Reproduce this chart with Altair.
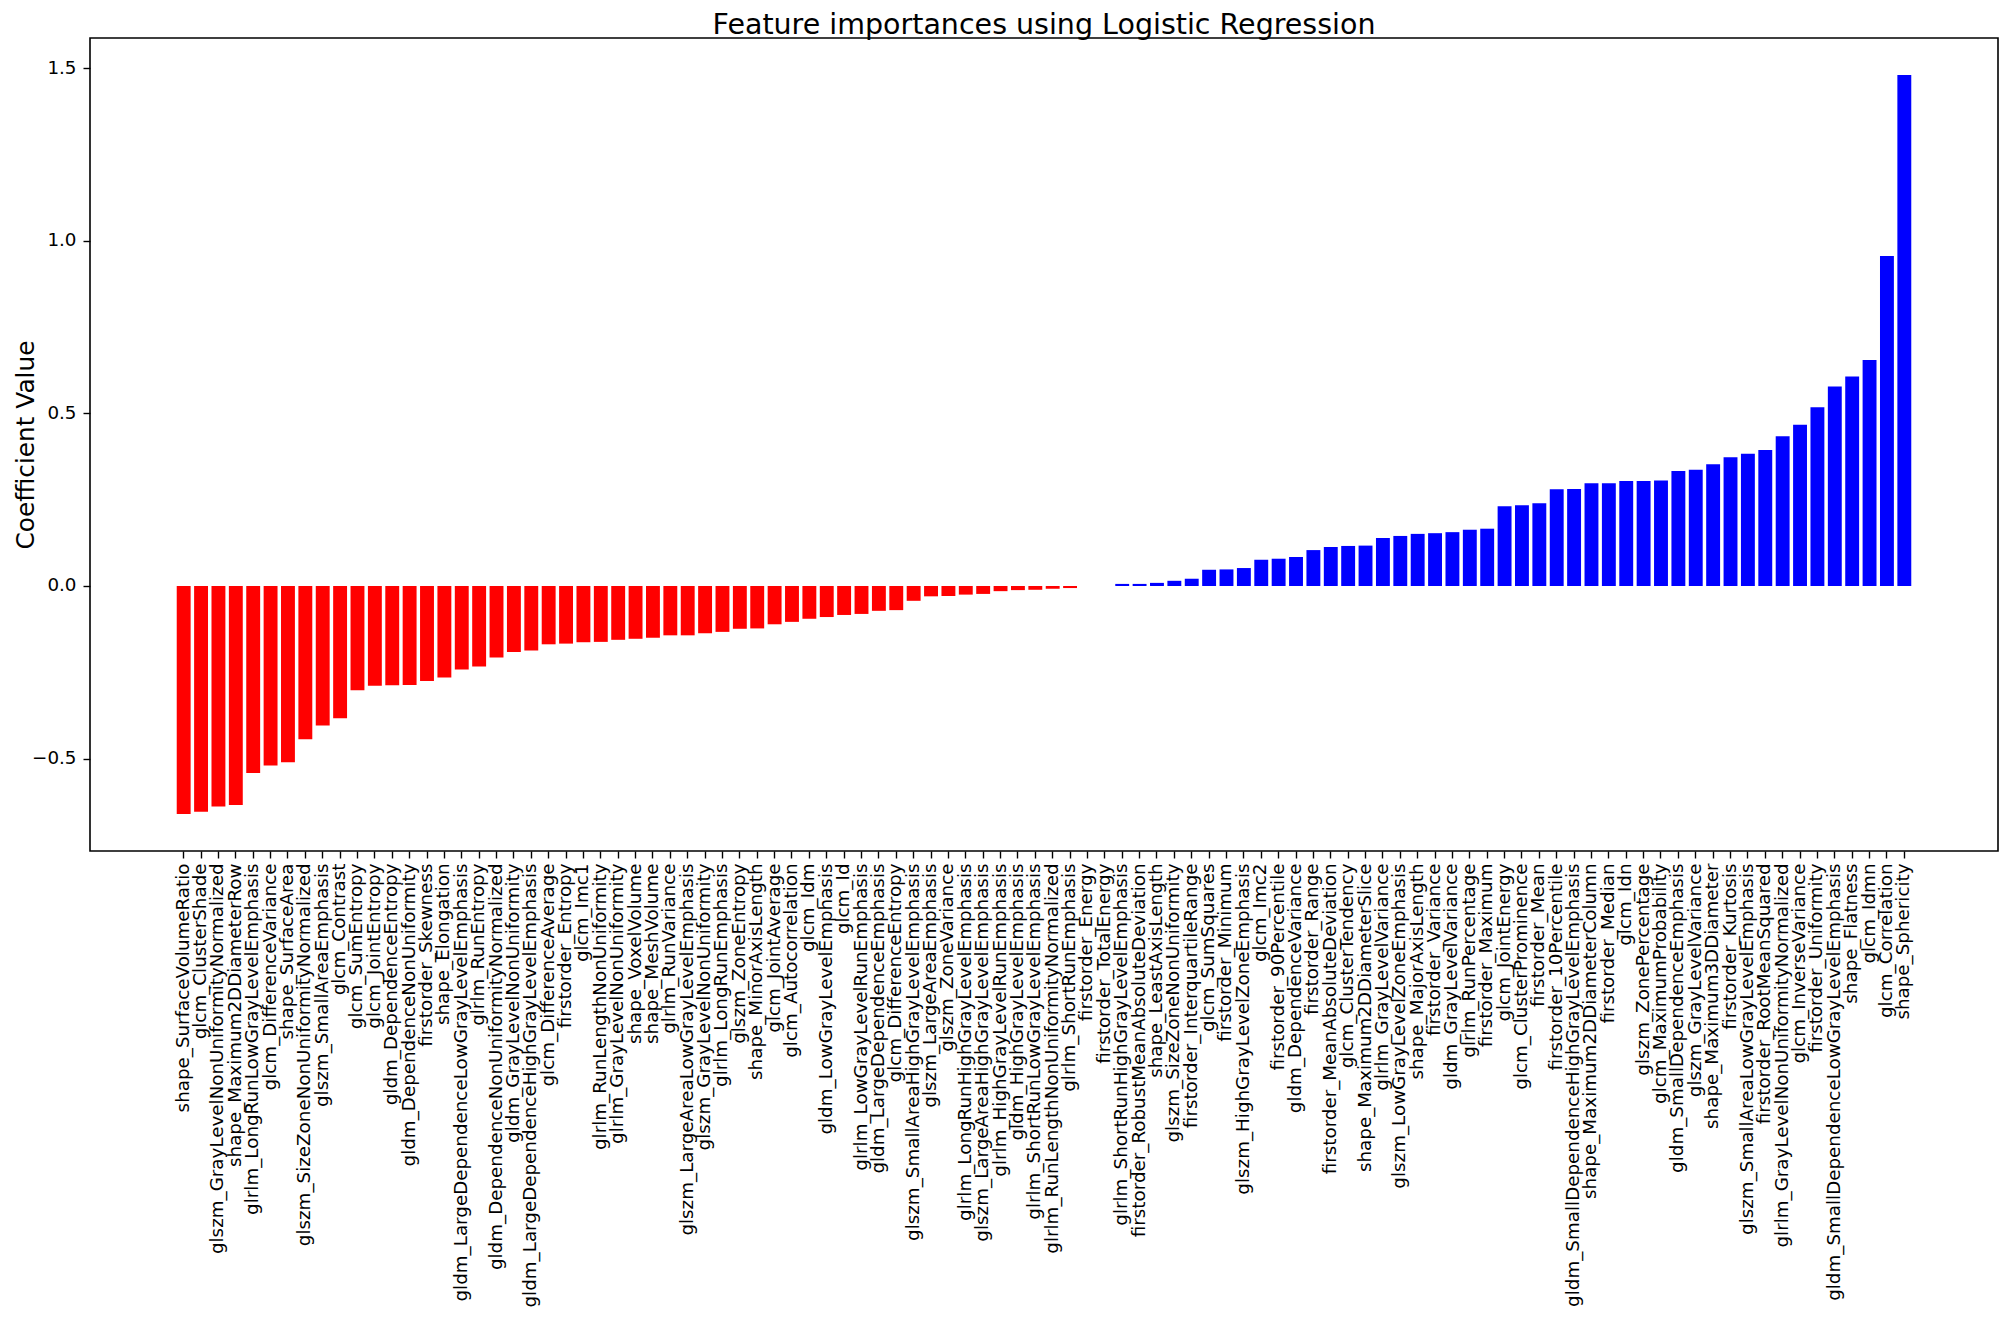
import altair as alt
import pandas as pd

features = [
    "shape_SurfaceVolumeRatio", "glcm_ClusterShade", "glszm_GrayLevelNonUniformityNormalized",
    "shape_Maximum2DDiameterRow", "glrlm_LongRunLowGrayLevelEmphasis", "glcm_DifferenceVariance",
    "shape_SurfaceArea", "glszm_SizeZoneNonUniformityNormalized", "glszm_SmallAreaEmphasis",
    "glcm_Contrast", "glcm_SumEntropy", "glcm_JointEntropy", "gldm_DependenceEntropy",
    "gldm_DependenceNonUniformity", "firstorder_Skewness", "shape_Elongation",
    "gldm_LargeDependenceLowGrayLevelEmphasis", "glrlm_RunEntropy",
    "gldm_DependenceNonUniformityNormalized", "gldm_GrayLevelNonUniformity",
    "gldm_LargeDependenceHighGrayLevelEmphasis", "glcm_DifferenceAverage", "firstorder_Entropy",
    "glcm_Imc1", "glrlm_RunLengthNonUniformity", "glrlm_GrayLevelNonUniformity",
    "shape_VoxelVolume", "shape_MeshVolume", "glrlm_RunVariance",
    "glszm_LargeAreaLowGrayLevelEmphasis", "glszm_GrayLevelNonUniformity",
    "glrlm_LongRunEmphasis", "glszm_ZoneEntropy", "shape_MinorAxisLength",
    "glcm_JointAverage", "glcm_Autocorrelation", "glcm_Idm", "gldm_LowGrayLevelEmphasis",
    "glcm_Id", "glrlm_LowGrayLevelRunEmphasis", "gldm_LargeDependenceEmphasis",
    "glcm_DifferenceEntropy", "glszm_SmallAreaHighGrayLevelEmphasis", "glszm_LargeAreaEmphasis",
    "glszm_ZoneVariance", "glrlm_LongRunHighGrayLevelEmphasis",
    "glszm_LargeAreaHighGrayLevelEmphasis", "glrlm_HighGrayLevelRunEmphasis",
    "gldm_HighGrayLevelEmphasis", "glrlm_ShortRunLowGrayLevelEmphasis",
    "glrlm_RunLengthNonUniformityNormalized", "glrlm_ShortRunEmphasis", "firstorder_Energy",
    "firstorder_TotalEnergy", "glrlm_ShortRunHighGrayLevelEmphasis",
    "firstorder_RobustMeanAbsoluteDeviation", "shape_LeastAxisLength",
    "glszm_SizeZoneNonUniformity", "firstorder_InterquartileRange", "glcm_SumSquares",
    "firstorder_Minimum", "glszm_HighGrayLevelZoneEmphasis", "glcm_Imc2",
    "firstorder_90Percentile", "gldm_DependenceVariance", "firstorder_Range",
    "firstorder_MeanAbsoluteDeviation", "glcm_ClusterTendency", "shape_Maximum2DDiameterSlice",
    "glrlm_GrayLevelVariance", "glszm_LowGrayLevelZoneEmphasis", "shape_MajorAxisLength",
    "firstorder_Variance", "gldm_GrayLevelVariance", "glrlm_RunPercentage",
    "firstorder_Maximum", "glcm_JointEnergy", "glcm_ClusterProminence", "firstorder_Mean",
    "firstorder_10Percentile", "gldm_SmallDependenceHighGrayLevelEmphasis",
    "shape_Maximum2DDiameterColumn", "firstorder_Median", "glcm_Idn", "glszm_ZonePercentage",
    "glcm_MaximumProbability", "gldm_SmallDependenceEmphasis", "glszm_GrayLevelVariance",
    "shape_Maximum3DDiameter", "firstorder_Kurtosis", "glszm_SmallAreaLowGrayLevelEmphasis",
    "firstorder_RootMeanSquared", "glrlm_GrayLevelNonUniformityNormalized",
    "glcm_InverseVariance", "firstorder_Uniformity", "gldm_SmallDependenceLowGrayLevelEmphasis",
    "shape_Flatness", "glcm_Idmn", "glcm_Correlation", "shape_Sphericity",
]

coefficients = [
    -0.661, -0.654, -0.639, -0.635, -0.542, -0.520, -0.511, -0.444, -0.404, -0.383,
    -0.302, -0.289, -0.288, -0.287, -0.275, -0.265, -0.242, -0.233, -0.207, -0.191,
    -0.187, -0.169, -0.167, -0.163, -0.162, -0.156, -0.153, -0.150, -0.143, -0.143,
    -0.137, -0.133, -0.124, -0.123, -0.111, -0.104, -0.095, -0.090, -0.084, -0.081,
    -0.072, -0.070, -0.043, -0.030, -0.029, -0.025, -0.023, -0.015, -0.012, -0.011,
    -0.008, -0.006, 0.0, 0.0, 0.006, 0.006, 0.009, 0.015, 0.021, 0.047,
    0.048, 0.052, 0.076, 0.079, 0.084, 0.104, 0.113, 0.116, 0.117, 0.139,
    0.145, 0.151, 0.153, 0.156, 0.163, 0.166, 0.231, 0.234, 0.240, 0.280,
    0.281, 0.298, 0.298, 0.304, 0.304, 0.306, 0.333, 0.337, 0.353, 0.373,
    0.383, 0.394, 0.434, 0.467, 0.518, 0.578, 0.607, 0.655, 0.956, 1.481,
]

y_ticks = [-0.5, 0.0, 0.5, 1.0, 1.5]

df = pd.DataFrame({"feature": features, "coef": coefficients})

FONT = "DejaVu Sans"
W, H = 1908, 813
TICK_FS = 18.3

# matplotlib-like x margins: 5% of the bar extent on each side
n = len(features)
steps_total = (n - 0.2) * 1.1
edge = 0.05 * (n - 0.2) * W / steps_total

chart = alt.Chart(df).mark_bar().encode(
    x=alt.X(
        "feature:N",
        sort=None,
        scale=alt.Scale(paddingInner=0.2, paddingOuter=0, range=[edge, W - edge]),
        axis=alt.Axis(
            title=None, labelAngle=-90, labelFontSize=TICK_FS, labelFont=FONT,
            labelLimit=1000, labelPadding=5, labelOverlap=False, labelColor="black",
            tickSize=7, tickWidth=1.4, tickColor="black", domain=False, grid=False,
        ),
    ),
    y=alt.Y(
        "coef:Q",
        scale=alt.Scale(domain=[-0.768, 1.588], nice=False, zero=False),
        axis=alt.Axis(
            title="Coefficient Value", values=y_ticks, format=".1f",
            labelFontSize=TICK_FS, labelFont=FONT, labelColor="black", labelPadding=7,
            tickSize=7, tickWidth=1.4, tickColor="black", domain=False, grid=False,
            titleFont=FONT, titleFontSize=24.8, titleFontWeight="normal", titleColor="black",
            titleX=-57, titleY=H / 2, titleAngle=270, titleAlign="center",
            titleBaseline="alphabetic",
        ),
    ),
    color=alt.condition(alt.datum.coef < 0, alt.value("#ff0000"), alt.value("#0000ff")),
).properties(
    width=W,
    height=H,
    title=alt.TitleParams(
        "Feature importances using Logistic Regression",
        fontSize=28.5, font=FONT, fontWeight="normal", color="black",
        anchor="middle", offset=0, dy=1,
    ),
    autosize=alt.AutoSizeParams(type="none"),
    padding={"left": 82, "top": 30, "right": 2, "bottom": 466},
).configure_view(
    stroke="black", strokeWidth=1.6
)

chart.save("out.html", embed_options={"renderer": "svg", "actions": False})
